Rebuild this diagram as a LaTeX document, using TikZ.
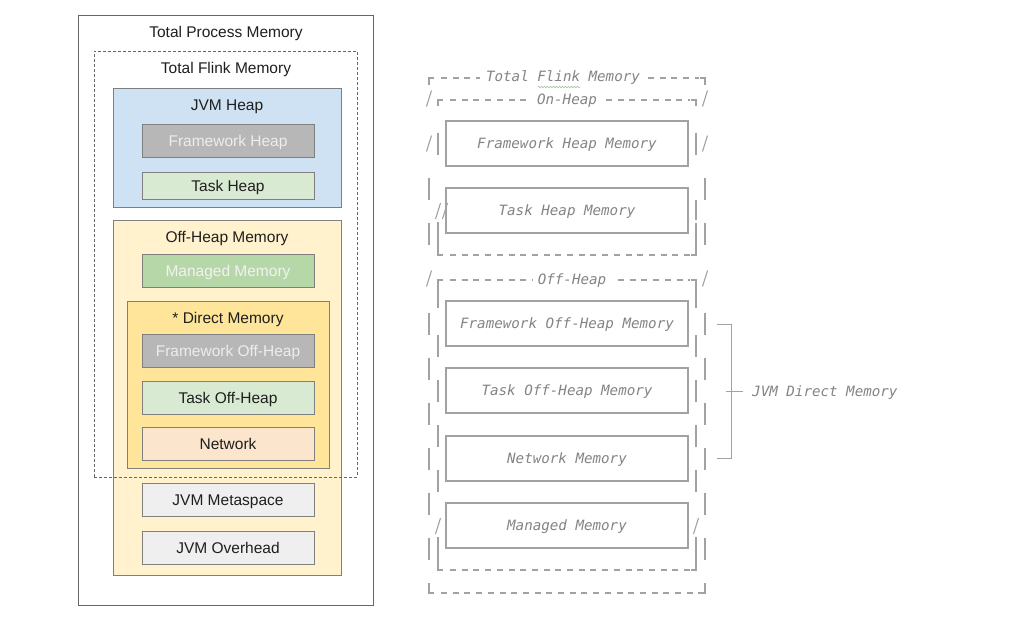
\documentclass[tikz,border=0pt]{standalone}
\usepackage{fontspec}
\setmainfont{Liberation Sans}
\newfontfamily\monofam{DejaVu Sans Mono}
\usetikzlibrary{decorations.pathmorphing}
\definecolor{edge}{HTML}{7F7F7F}
\definecolor{outeredge}{HTML}{666666}
\definecolor{heapblue}{HTML}{CFE2F3}
\definecolor{fwgray}{HTML}{B7B7B7}
\definecolor{taskgreen}{HTML}{D9EAD3}
\definecolor{offyellow}{HTML}{FFF2CC}
\definecolor{mgdgreen}{HTML}{B6D7A8}
\definecolor{diryellow}{HTML}{FFE599}
\definecolor{netorange}{HTML}{FCE5CD}
\definecolor{jvmgray}{HTML}{EFEFEF}
\definecolor{asciiline}{HTML}{A2A2A2}
\definecolor{asciitext}{HTML}{848484}
\definecolor{squiggle}{HTML}{9CCB9C}
\tikzset{
  lfont/.style={font=\fontsize{15.5}{18}\selectfont, text height=11.1pt, text depth=0pt},
  container/.style={draw=edge, line width=0.8pt, inner sep=0pt},
  lbox/.style={draw=edge, line width=0.8pt, minimum width=172pt, minimum height=33pt, inner sep=0pt, lfont, text=black!88},
  llabel/.style={lfont, text=black!88, inner sep=0pt},
  rfont/.style={font=\monofam\itshape\fontsize{14.2}{16}\selectfont, text=asciitext, text height=10.3pt, text depth=0pt},
  rbox/.style={draw=asciiline, line width=1.1pt, minimum width=242pt, minimum height=45pt, inner sep=0pt, rfont},
  rlabel/.style={rfont, inner sep=0pt},
  vline/.style={draw=asciiline, line width=1.1pt},
  hdash/.style={draw=asciiline, line width=1.1pt, dash pattern=on 6pt off 5.7pt},
}
\newcommand{\rowy}[1]{76+22.5*#1}
\begin{document}
\begin{tikzpicture}[x=1pt,y=-1pt]
\useasboundingbox[fill=white] (0,0) rectangle (1035,622);

% ---------------- left diagram ----------------
\node[draw=outeredge, line width=0.8pt, fill=white, minimum width=295pt, minimum height=590pt, inner sep=0pt] (tpm) at (225.5,310) {};
\node[llabel] (tpml) at (226,32) {Total Process Memory};

\node[container, fill=heapblue, minimum width=228pt, minimum height=119pt] (heap) at (227,147.5) {};
\node[llabel] (heapl) at (227,105) {JVM Heap};
\node[lbox, fill=fwgray, text=white!93!black] (fwh) at (228,140.5) {Framework Heap};
\node[lbox, fill=taskgreen, minimum height=27pt] (th) at (228,185.5) {Task Heap};

\node[container, fill=offyellow, minimum width=228pt, minimum height=355pt] (off) at (227,397.5) {};
\node[llabel] (offl) at (227,237) {Off-Heap Memory};
\node[lbox, fill=mgdgreen, text=white!95!black] (mgd) at (228,270.5) {Managed Memory};

\node[container, fill=diryellow, minimum width=202pt, minimum height=167pt] (dir) at (228,384.5) {};
\node[llabel] (dirl) at (228,318) {* Direct Memory};
\node[lbox, fill=fwgray, text=white!93!black] (fwo) at (228,350.5) {Framework Off-Heap};
\node[lbox, fill=taskgreen] (to) at (228,398) {Task Off-Heap};
\node[lbox, fill=netorange] (net) at (228,443.5) {Network};

\node[lbox, fill=jvmgray] (meta) at (228,500) {JVM Metaspace};
\node[lbox, fill=jvmgray] (ovh) at (228,547.5) {JVM Overhead};

\node[draw=outeredge, line width=0.8pt, dash pattern=on 3pt off 2pt, minimum width=263pt, minimum height=426pt, inner sep=0pt] (tfm) at (225.5,264) {};
\node[llabel] (tfml) at (226,68) {Total Flink Memory};

% ---------------- right diagram (ASCII style) ----------------
\node[rbox] (rfh) at (567,143.5) {Framework Heap Memory};
\node[rbox] (rth) at (567,210.5) {Task Heap Memory};
\node[rbox] (rfo) at (567,323.5) {Framework Off-Heap Memory};
\node[rbox] (rto) at (567,390.5) {Task Off-Heap Memory};
\node[rbox] (rnet) at (567,458.5) {Network Memory};
\node[rbox] (rmgd) at (567,525.5) {Managed Memory};

% header rows
\node[rlabel] (rtfm) at (563,76) {Total Flink Memory};
\draw[squiggle, line width=0.6pt, decorate, decoration={snake, amplitude=0.8pt, segment length=3pt}] (537.5,87) -- (580,87);
\node[rlabel] (ron) at (567,99) {On-Heap};
\node[rlabel] (roff) at (572,279) {Off-Heap};

% outer frame: top and bottom
\draw[vline] (429,85) -- (429,78) -- (434,78);
\draw[hdash] (441,78) -- (480,78);
\draw[hdash] (648,78) -- (699,78);
\draw[vline] (700,78) -- (705,78) -- (705,85);
\draw[vline] (429,583) -- (429,593) -- (434,593);
\draw[hdash] (441,593) -- (700,593);
\draw[vline] (700,593) -- (705,593) -- (705,583);

% inner on-heap frame
\draw[vline] (438,106) -- (438,100) -- (443,100);
\draw[hdash] (450,100) -- (530,100);
\draw[hdash] (606,100) -- (690,100);
\draw[vline] (691,100) -- (696,100) -- (696,106);
\draw[vline] (438,222) -- (438,255) -- (443,255);
\draw[hdash] (450,255) -- (690,255);
\draw[vline] (691,255) -- (696,255) -- (696,223);

% inner off-heap frame
\draw[vline] (438,308) -- (438,280) -- (443,280);
\draw[hdash] (450,280) -- (532,280);
\draw[hdash] (618,280) -- (690,280);
\draw[vline] (691,280) -- (696,280) -- (696,308);
\draw[vline] (438,537) -- (438,570) -- (443,570);
\draw[hdash] (450,570) -- (690,570);
\draw[vline] (691,570) -- (696,570) -- (696,537);

% outer verticals: straight pieces on odd rows
\foreach \k in {5,7,11,13,15,17,19,21} {
  \draw[vline] (429,{\rowy{\k}-11}) -- (429,{\rowy{\k}+11});
  \draw[vline] (705,{\rowy{\k}-11}) -- (705,{\rowy{\k}+11});
}
% outer slanted pieces
\foreach \k in {1,3,9} {
  \draw[vline] (426.5,{\rowy{\k}+8}) -- (431.5,{\rowy{\k}-8});
  \draw[vline] (702.5,{\rowy{\k}+8}) -- (707.5,{\rowy{\k}-8});
}
% inner verticals: straight pieces
\foreach \k in {3,12,14,16,18} {
  \draw[vline] (438,{\rowy{\k}-11}) -- (438,{\rowy{\k}+11});
  \draw[vline] (696,{\rowy{\k}-11}) -- (696,{\rowy{\k}+11});
}
\draw[vline] (696,{\rowy{6}-11}) -- (696,{\rowy{6}+9});
% inner slanted pieces
\draw[vline] (435.5,{\rowy{6}+8}) -- (440.5,{\rowy{6}-8});
\draw[vline] (442.5,{\rowy{6}+8}) -- (447.5,{\rowy{6}-8});
\draw[vline] (435.5,{\rowy{20}+8}) -- (440.5,{\rowy{20}-8});
\draw[vline] (693.5,{\rowy{20}+8}) -- (698.5,{\rowy{20}-8});

% JVM Direct Memory bracket
\node[rlabel, anchor=west] (rjdm) at (752,391) {JVM Direct Memory};
\coordinate (btop) at (717,324);
\coordinate (bbot) at (717,458);
\coordinate (btick) at (726,391);
\draw[vline, line width=1pt] (btop) -- (731,324) -- (731,458) -- (bbot);
\draw[vline, line width=1pt] (btick) -- (rjdm.west -| 743,0);
\end{tikzpicture}
\end{document}
